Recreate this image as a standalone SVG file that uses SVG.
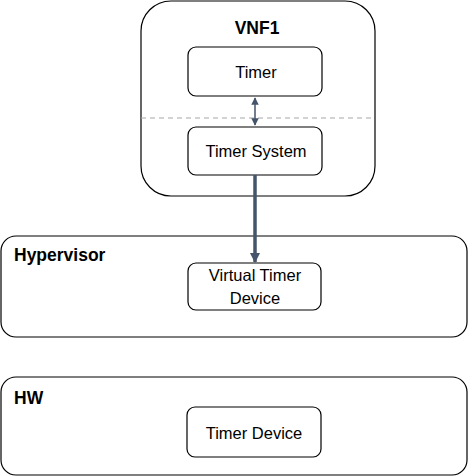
<svg xmlns="http://www.w3.org/2000/svg" width="468" height="476" viewBox="0 0 468 476">
<style>
.box{fill:#fff;stroke:#000;stroke-width:1.2}
.t{font-family:"Liberation Sans",Arial,sans-serif;font-size:16.5px;fill:#000;text-anchor:middle}
.h{font-family:"Liberation Sans",Arial,sans-serif;font-size:17.5px;font-weight:bold;fill:#000}
.c{stroke:#44546A;fill:none}
</style>
<defs>
<marker id="ah" viewBox="0 0 10 10" refX="9" refY="5" markerWidth="3" markerHeight="3" orient="auto-start-reverse" markerUnits="strokeWidth"><path d="M0,0L10,5L0,10z" fill="#44546A"/></marker>
<marker id="ahs" viewBox="0 0 10 10" refX="9" refY="5" markerWidth="5" markerHeight="5" orient="auto-start-reverse" markerUnits="strokeWidth"><path d="M0,0L10,5L0,10z" fill="#44546A"/></marker>
</defs>
<g id="vnf1">
<rect class="box" x="141" y="1" width="234" height="195" rx="30"/>
<text class="h" x="257" y="34" text-anchor="middle">VNF1</text>
<line x1="141" y1="118" x2="375" y2="118" stroke="#A6A6A6" stroke-width="1" stroke-dasharray="5,4"/>
</g>
<g id="timer">
<rect class="box" x="188" y="47" width="134" height="49" rx="8"/>
<text class="t" x="256" y="78">Timer</text>
</g>
<g id="timer-system">
<rect class="box" x="188" y="127" width="134" height="48" rx="8"/>
<text class="t" x="256" y="157">Timer System</text>
</g>
<g id="hypervisor">
<rect class="box" x="1" y="236" width="466" height="101" rx="15"/>
<text class="h" x="14" y="261">Hypervisor</text>
</g>
<g id="virtual-timer-device">
<rect class="box" x="188" y="263" width="133" height="47" rx="8"/>
<text class="t" x="255" y="281">Virtual Timer</text>
<text class="t" x="255" y="304">Device</text>
</g>
<g id="hw">
<rect class="box" x="1" y="377" width="466" height="98" rx="15"/>
<text class="h" x="14" y="404">HW</text>
</g>
<g id="timer-device">
<rect class="box" x="187" y="407" width="134" height="50" rx="8"/>
<text class="t" x="254" y="439">Timer Device</text>
</g>
<g id="connectors">
<line class="c" x1="255" y1="98" x2="255" y2="125" stroke-width="1.5" marker-start="url(#ahs)" marker-end="url(#ahs)"/>
<line class="c" x1="255" y1="175" x2="255" y2="262" stroke-width="3.5" marker-end="url(#ah)"/>
</g>
</svg>
